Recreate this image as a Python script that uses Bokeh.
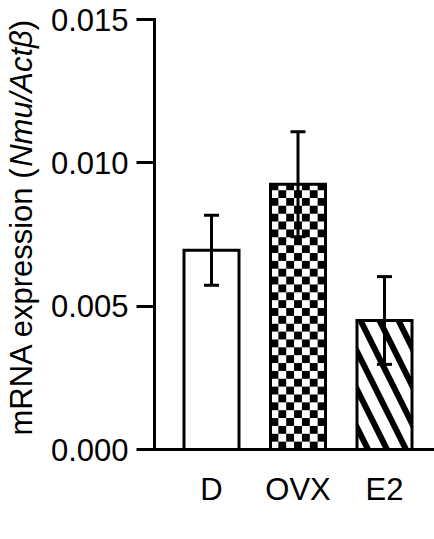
import math
from bokeh.plotting import figure
from bokeh.models import Range1d, FixedTicker, ColumnDataSource, Whisker, TeeHead, Label
from bokeh.embed import file_html
from bokeh.resources import INLINE

# ---- data ----
groups = ["D", "OVX", "E2"]
means = [0.00695, 0.00925, 0.00450]
errors = [0.00122, 0.00183, 0.00153]
y_ticks = [0.0, 0.005, 0.010, 0.015]
y_tick_labels = ["0.000", "0.005", "0.010", "0.015"]
y_label_parts = ["mRNA expression (", "Nmu/Actβ", ")"]

# ---- layout (frame covers the whole canvas, axes placed inside) ----
W, H = 434, 539
AX_X, AX_TOP, AX_BOT = 154, 19, 449   # canvas pixels of the axes corner
xs = [i + 1 for i in range(len(groups))]
px_per_x = 86.5
first_center_px = 211
bar_w = 0.636
y_max = 0.015
px_per_y = (AX_BOT - AX_TOP) / y_max
x_start = 1 - first_center_px / px_per_x
x_end = x_start + W / px_per_x
y_start = -(H - AX_BOT) / px_per_y
y_end = y_max + AX_TOP / px_per_y
x_axis_pos = x_start + AX_X / px_per_x
FONT = "Liberation Sans"

p = figure(width=W, height=H, output_backend="svg", toolbar_location=None,
           x_range=Range1d(x_start, x_end), y_range=Range1d(y_start, y_end),
           min_border=0)
p.grid.visible = False
p.outline_line_color = None
p.background_fill_color = "white"
p.border_fill_color = "white"

# bars fill (with hatch for E2)
patterns = [" ", " ", "left_diagonal_line"]
src = ColumnDataSource(dict(x=xs, top=means, hatch=patterns))
p.vbar(x="x", top="top", bottom=0, width=bar_w, source=src, fill_color="white",
       line_color=None, hatch_pattern="hatch", hatch_color="black",
       hatch_scale=38, hatch_weight=6)

# checkerboard for OVX, derived from bar geometry
ncols = 7
cell_px = bar_w * px_per_x / ncols
cell_dy = cell_px / px_per_y
i_ovx = groups.index("OVX")
cx = xs[i_ovx]
top_v = means[i_ovx]
lefts, rights, bottoms, tops = [], [], [], []
r = 0
while r * cell_dy < top_v:
    b = r * cell_dy
    t = min((r + 1) * cell_dy, top_v)
    for c in range(ncols):
        if (r + c) % 2 == 1:
            l = cx - bar_w / 2 + c * bar_w / ncols
            lefts.append(l)
            rights.append(l + bar_w / ncols)
            bottoms.append(b)
            tops.append(t)
    r += 1
p.quad(left=lefts, right=rights, bottom=bottoms, top=tops,
       fill_color="black", line_color=None)

# bar outlines
p.vbar(x=xs, top=means, bottom=0, width=bar_w, fill_color=None, line_color="black",
       line_width=3, line_join="miter")

# error bars
esrc = ColumnDataSource(dict(x=xs,
                             upper=[m + e for m, e in zip(means, errors)],
                             lower=[m - e for m, e in zip(means, errors)]))
wh = Whisker(base="x", upper="upper", lower="lower", source=esrc,
             line_width=3, line_color="black", level="overlay",
             upper_head=TeeHead(size=15, line_width=3, line_color="black"),
             lower_head=TeeHead(size=15, line_width=3, line_color="black"))
p.add_layout(wh)

# x axis
xa = p.xaxis[0]
xa.fixed_location = 0
xa.bounds = (x_axis_pos, x_end)
xa.ticker = FixedTicker(ticks=xs)
xa.major_label_overrides = {x: g for x, g in zip(xs, groups)}
xa.major_tick_out = 0
xa.major_tick_in = 0
xa.minor_tick_out = 0
xa.minor_tick_in = 0
xa.axis_line_width = 3
xa.axis_line_color = "black"
xa.major_label_text_font = FONT
xa.major_label_text_font_size = "31px"
xa.major_label_text_color = "black"
xa.major_label_standoff = 22

# y axis
ya = p.yaxis[0]
ya.fixed_location = x_axis_pos
ya.bounds = (0, y_max)
ya.ticker = FixedTicker(ticks=y_ticks)
ya.major_label_overrides = {t: s for t, s in zip(y_ticks, y_tick_labels)}
ya.major_tick_out = 18
ya.major_tick_in = 0
ya.minor_tick_out = 0
ya.minor_tick_in = 0
ya.major_tick_line_width = 3
ya.major_tick_line_color = "black"
ya.axis_line_width = 3
ya.axis_line_color = "black"
ya.axis_line_cap = "square"
ya.major_label_text_font = FONT
ya.major_label_text_font_size = "31px"
ya.major_label_text_color = "black"
ya.major_label_standoff = 8

# y axis title in three pieces (italic gene names)
fs = 31
seg_em = [8.668, 4.407, 0.333]
styles = ["normal", "italic", "normal"]
pos = H - 435
for txt, em, st in zip(y_label_parts, seg_em, styles):
    lab = Label(x=21, y=pos, x_units="screen", y_units="screen", text=txt,
                angle=math.pi / 2, text_align="left", text_baseline="middle",
                text_font=FONT, text_font_size=f"{fs}px", text_font_style=st,
                text_color="black")
    p.add_layout(lab)
    pos += em * fs

open("out.html", "w").write(file_html(p, INLINE))
